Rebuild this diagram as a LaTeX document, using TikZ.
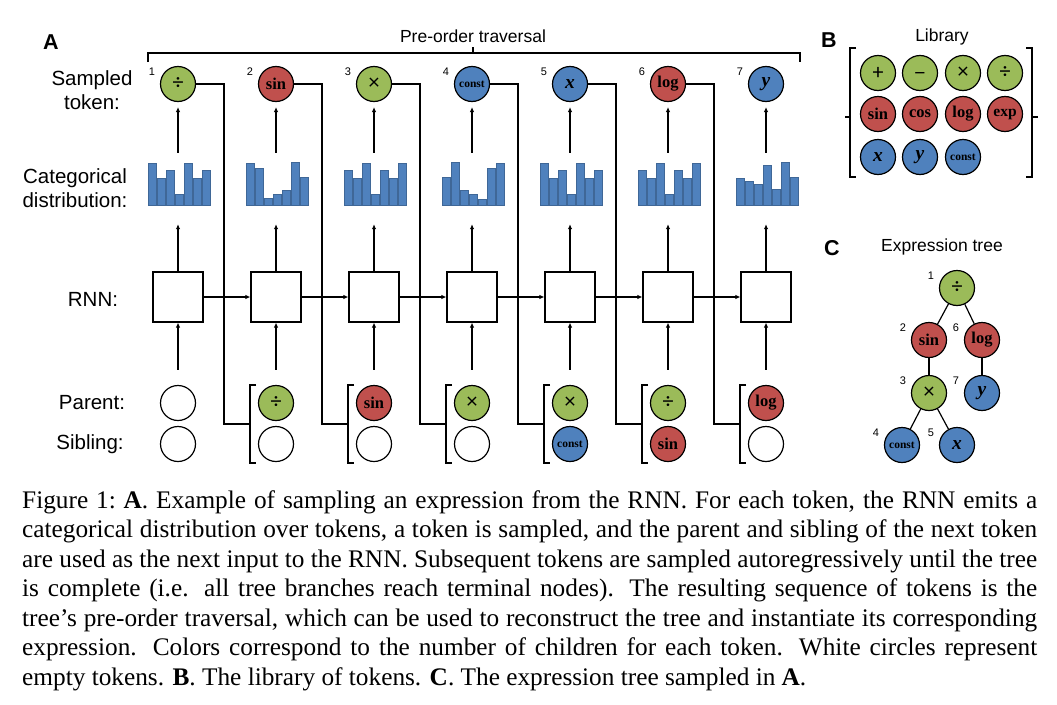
\documentclass[tikz,border=0pt]{standalone}
\usepackage{fontspec}
\setmainfont{Liberation Serif}
\newfontfamily\lsans{Liberation Sans}
\newfontfamily\opfont{Carlito}
\usetikzlibrary{arrows.meta}
\definecolor{tgreen}{HTML}{9BBB59}
\definecolor{tred}{HTML}{C0504D}
\definecolor{tblue}{HTML}{4F81BD}
\newcommand{\Tdiv}{{\opfont\fontsize{22}{22}\selectfont ÷}}
\newcommand{\Tmul}{{\opfont\fontsize{22}{22}\selectfont ×}}
\newcommand{\Tplus}{{\opfont\fontsize{22}{22}\selectfont +}}
\newcommand{\Tminus}{{\opfont\fontsize{22}{22}\selectfont\vphantom{+}}{\lsans\fontsize{19}{19}\selectfont −}}
\newcommand{\Tsin}{{\bfseries\fontsize{16.5}{16.5}\selectfont sin}}
\newcommand{\Tcos}{{\bfseries\fontsize{16.5}{16.5}\selectfont cos}}
\newcommand{\Tlog}{{\bfseries\fontsize{16.5}{16.5}\selectfont log}}
\newcommand{\Texp}{{\bfseries\fontsize{15.5}{15.5}\selectfont exp}}
\newcommand{\Tconst}{{\bfseries\fontsize{11.5}{11.5}\selectfont const}}
\newcommand{\Tx}{{\bfseries\itshape\fontsize{19.5}{19.5}\selectfont x}}
\newcommand{\Ty}{{\bfseries\itshape\fontsize{19.5}{19.5}\selectfont y}}
\begin{document}
\begin{tikzpicture}[x=1pt,y=-1pt,
  tok/.style={circle, draw=black, line width=1.2pt, minimum size=35pt, inner sep=0pt},
  gt/.style={tok, fill=tgreen}, rt/.style={tok, fill=tred},
  bt/.style={tok, fill=tblue}, et/.style={tok, fill=white},
  ar/.style={-{Latex[length=5pt,width=4.5pt]}, line width=1.2pt},
  ln/.style={line width=1.2pt},
  lbl/.style={font=\lsans\fontsize{20.5}{24}\selectfont, align=center, inner sep=0pt},
  ttl/.style={font=\lsans\fontsize{17.5}{20}\selectfont, inner sep=0pt},
  pan/.style={font=\lsans\bfseries\fontsize{21.5}{21.5}\selectfont, inner sep=0pt},
  num/.style={font=\lsans\fontsize{11}{11}\selectfont, inner sep=0pt},
  rnn/.style={draw=black, line width=1.2pt, minimum size=50pt, inner sep=0pt},
  distbox/.style={minimum width=64pt, minimum height=52pt, inner sep=0pt},
  bar/.style={fill=tblue, draw=tblue!80!black, line width=0.4pt},
  captxt/.style={anchor=base west, inner sep=0pt, font=\fontsize{25.3}{29.5}\selectfont}]
\fill[white] (0,0) rectangle (1057,704);
\useasboundingbox (0,0) rectangle (1057,704);

% panel labels and titles
\node[pan] (pA) at (51,42) {A};
\node[pan] (pB) at (829,40) {B};
\node[pan] (pC) at (832,248) {C};
\node[ttl] (pre) at (473,36) {Pre-order traversal};
\node[ttl] (lib) at (942,37) {Library};
\node[ttl] (ext) at (942,247) {Expression tree};

% row labels
\node[lbl] (lsamp) at (92,90) {Sampled\\token:};
\node[lbl] (lcat) at (75,188) {Categorical\\distribution:};
\node[lbl] (lrnn) at (93,299) {RNN:};
\node[lbl] (lpar) at (92,403) {Parent:};
\node[lbl] (lsib) at (90,444) {Sibling:};

% top bracket
\draw[ln] (148,62) -- (148,53) -- (800,53) -- (800,62);
\draw[ln] (473,53) -- (473,47);

% columns
\foreach \i/\st/\txt in {1/gt/\Tdiv,2/rt/\Tsin,3/gt/\Tmul,4/bt/\Tconst,5/bt/\Tx,6/rt/\Tlog,7/bt/\Ty}{
  \pgfmathsetmacro\cx{178+98*(\i-1)}
  \node[\st] (t\i) at (\cx,84) {\txt};
  \node[num] (tn\i) at (\cx-26,72) {\i};
  \node[distbox] (d\i) at (\cx,179) {};
  \node[rnn] (h\i) at (\cx,297) {};
  \coordinate (bk\i) at (\cx-26,424);
}

% bars
\foreach \i/\hs in {1/{163,178,170,194,163,178,170},2/{163,168,198,194,190,162,177},3/{170,178,163,194,170,178,163},4/{177,162,190,194,199,168,163},5/{163,178,170,194,163,178,170},6/{170,178,163,194,170,178,163},7/{178,181,184,165,189,162,177}}{
  \foreach \h [count=\k from 0] in \hs {
    \filldraw[bar] ({178+98*(\i-1)-30+9*\k},205) rectangle ++(8,{\h-205});
  }
}

% parent / sibling
\foreach \i/\ps/\pt/\ss/\stx in {1/et/{}/et/{},2/gt/\Tdiv/et/{},3/rt/\Tsin/et/{},4/gt/\Tmul/et/{},5/gt/\Tmul/bt/\Tconst,6/gt/\Tdiv/rt/\Tsin,7/rt/\Tlog/et/{}}{
  \pgfmathsetmacro\cx{178+98*(\i-1)}
  \node[\ps] (p\i) at (\cx,403) {\pt};
  \node[\ss] (s\i) at (\cx,444) {\stx};
}

% brackets around parent/sibling
\foreach \i in {2,...,7}{
  \pgfmathsetmacro\bx{178+98*(\i-1)-26}
  \draw[ln] (\bx+6,385) -- (\bx,385) -- (\bx,463) -- (\bx+6,463);
}

% vertical arrows
\foreach \i in {1,...,7}{
  \draw[ar, shorten >=5pt] (d\i.north) -- (t\i.south);
  \draw[ar, shorten >=19pt] (h\i.north) -- (d\i.south);
  \draw[ar, shorten <=15pt] (p\i.north) -- (h\i.south);
}

% recurrent arrows and feedback lines
\foreach \i in {1,...,6}{
  \pgfmathtruncatemacro\j{\i+1}
  \pgfmathsetmacro\fx{178+98*(\i-1)+46}
  \draw[ar] (h\i.east) -- (h\j.west);
  \draw[ln] (t\i.east) -- (\fx,84) -- (\fx,424) -- (bk\j);
}

% library
\foreach \n/\st/\txt/\x/\y in {1/gt/\Tplus/878/73,2/gt/\Tminus/920/73,3/gt/\Tmul/963/73,4/gt/\Tdiv/1005/73,5/rt/\Tsin/878/114,6/rt/\Tcos/920/114,7/rt/\Tlog/963/114,8/rt/\Texp/1005/114,9/bt/\Tx/878/157,10/bt/\Ty/920/157,11/bt/\Tconst/963/157}{
  \node[\st] (l\n) at (\x,\y) {\txt};
}
\draw[ln] (856,48) -- (850,48) -- (850,177) -- (856,177);
\draw[ln] (845,117) -- (850,117);
\draw[ln] (1026,48) -- (1032,48) -- (1032,177) -- (1026,177);
\draw[ln] (1032,117) -- (1038,117);

% expression tree
\foreach \n/\st/\txt/\x/\y in {1/gt/\Tdiv/957/288,2/rt/\Tsin/929/340,6/rt/\Tlog/982/340,3/gt/\Tmul/929/393,7/bt/\Ty/982/393,4/bt/\Tconst/902/445,5/bt/\Tx/957/445}{
  \node[\st, minimum size=35pt] (n\n) at (\x,\y) {\txt};
  \node[num] (nn\n) at (\x-26,\y-12) {\n};
}
\draw[ln] (n1) -- (n2);
\draw[ln] (n1) -- (n6);
\draw[ln] (n2) -- (n3);
\draw[ln] (n6) -- (n7);
\draw[ln] (n3) -- (n4);
\draw[ln] (n3) -- (n5);

% caption
\node[captxt] (c1) at (22,508) {\hbox to 1015pt{Figure 1:\ \textbf{A}. Example of sampling an expression from the RNN. For each token, the RNN emits a}};
\node[captxt] (c2) at (22,537.5) {\hbox to 1015pt{categorical distribution over tokens, a token is sampled, and the parent and sibling of the next token}};
\node[captxt] (c3) at (22,567) {\hbox to 1015pt{are used as the next input to the RNN. Subsequent tokens are sampled autoregressively until the tree}};
\node[captxt] (c4) at (22,596.5) {\hbox to 1015pt{is complete (i.e. all tree branches reach terminal nodes). The resulting sequence of tokens is the}};
\node[captxt] (c5) at (22,626) {\hbox to 1015pt{tree’s pre-order traversal, which can be used to reconstruct the tree and instantiate its corresponding}};
\node[captxt] (c6) at (22,655.5) {\hbox to 1015pt{expression. Colors correspond to the number of children for each token. White circles represent}};
\node[captxt] (c7) at (22,685) {empty tokens. \textbf{B}. The library of tokens. \textbf{C}. The expression tree sampled in \textbf{A}.};
\end{tikzpicture}
\end{document}
